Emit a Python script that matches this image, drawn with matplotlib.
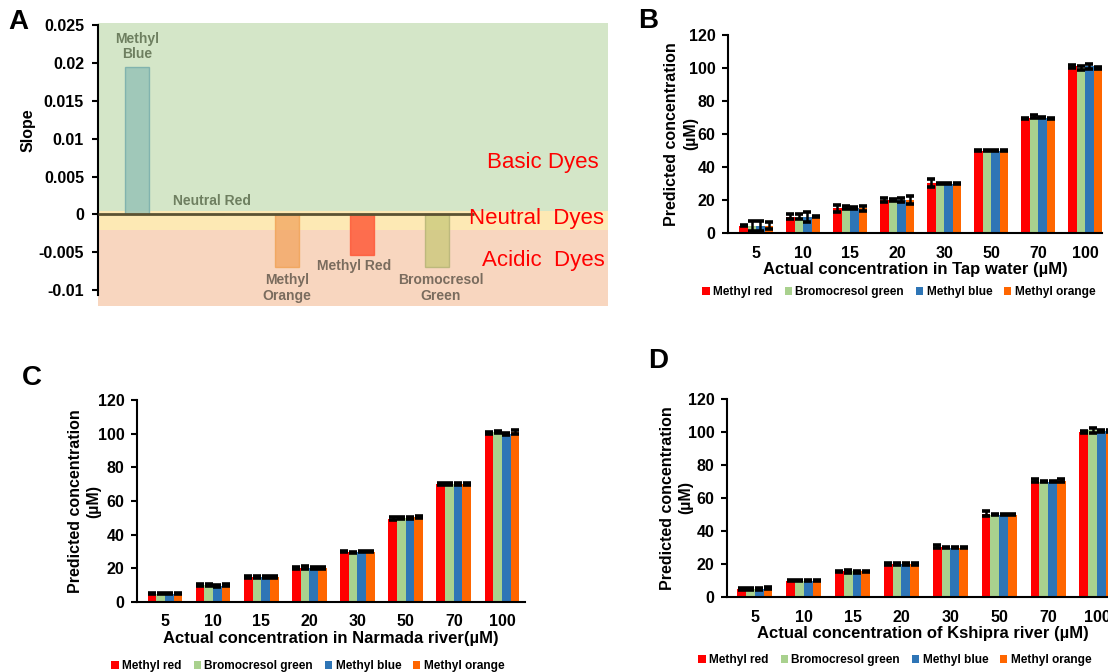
import matplotlib
matplotlib.use("Agg")
import matplotlib.pyplot as plt
from matplotlib.patches import Patch
import numpy as np

plt.rcParams['font.family'] = ['Liberation Sans', 'DejaVu Sans']

# ---------------- Data ----------------
# Panel A
dye_names = ["Methyl\nBlue", "Neutral Red", "Methyl\nOrange", "Methyl Red", "Bromocresol\nGreen"]
slopes = [0.0195, 0.0, -0.0069, -0.0054, -0.0069]

# Panels B-D
conc_labels = ["5", "10", "15", "20", "30", "50", "70", "100"]
series_names = ["Methyl red", "Bromocresol green", "Methyl blue", "Methyl orange"]

tap_red = [4.5, 10, 15, 20, 30.5, 50, 69.5, 101]
tap_green = [4.5, 10, 15.5, 20, 30, 50, 70.5, 100]
tap_blue = [4.5, 9.5, 15, 20, 30, 50, 70, 101]
tap_orange = [4.5, 10, 15, 20, 30, 50, 69.5, 100]
tap_red_err = [0.5, 1.5, 2, 1, 2.5, 0.5, 0.5, 1]
tap_green_err = [3, 1.5, 1, 0.5, 0.5, 0.5, 1, 1]
tap_blue_err = [3, 3, 0.5, 1.5, 0.5, 0.5, 0.5, 1.5]
tap_orange_err = [2, 0.5, 1.5, 2.5, 0.5, 0.5, 0.5, 0.5]

nar_red = [5, 10, 15, 20, 30, 49.5, 70, 100.5]
nar_green = [5, 10, 15, 20.5, 29.5, 50, 70, 101]
nar_blue = [5, 9.5, 15, 20, 30, 50, 70, 100]
nar_orange = [5, 10, 15, 20, 30, 50.5, 70, 101]
nar_red_err = [0.5, 0.5, 0.5, 0.5, 0.5, 1, 0.5, 0.5]
nar_green_err = [0.5, 0.5, 0.5, 1, 0.5, 0.5, 0.5, 0.5]
nar_blue_err = [0.5, 0.5, 0.5, 0.5, 0.5, 0.5, 0.5, 0.5]
nar_orange_err = [0.5, 0.5, 0.5, 0.5, 0.5, 0.5, 0.5, 1]

ksh_red = [5, 10, 15.5, 20, 30.5, 50.5, 70.5, 100]
ksh_green = [5, 10, 15.5, 20, 30, 50, 70, 101]
ksh_blue = [5, 10, 15, 20, 30, 50, 70, 100.5]
ksh_orange = [5.5, 10, 15.5, 20, 30, 50, 70.5, 100.5]
ksh_red_err = [0.5, 0.5, 0.5, 0.5, 1, 1.5, 1, 0.5]
ksh_green_err = [0.5, 0.5, 1, 0.5, 0.5, 0.5, 0.5, 1.5]
ksh_blue_err = [0.5, 0.5, 0.5, 0.5, 0.5, 0.5, 0.5, 0.5]
ksh_orange_err = [0.5, 0.5, 0.5, 0.5, 0.5, 0.5, 1, 0.5]

bar_colors = ["#ff0000", "#a9d18e", "#2e75b6", "#ff6600"]

W, H = 1108, 672
fig = plt.figure(figsize=(W / 100, H / 100), dpi=100)


def px_axes(x0, y0, x1, y1):
    return fig.add_axes([x0 / W, 1 - y1 / H, (x1 - x0) / W, (y1 - y0) / H])


def fx(x):
    return x / W


def fy(y):
    return 1 - y / H


# ---------------- Panel A ----------------
axA = px_axes(98, 23, 608, 306)
axA.set_xlim(-0.52, 6.28)
axA.set_ylim(-0.0121, 0.0253)
axA.axhspan(0.0005, 0.0253, color="#d4e6c8", zorder=0, lw=0)
axA.axhspan(-0.002, 0.0005, color="#fde9b4", zorder=0, lw=0)
axA.axhspan(-0.0121, -0.002, color="#f8d6bf", zorder=0, lw=0)

xa = np.arange(len(dye_names))
a_face = ["#8fbfb4", "#b0b0a0", "#f2a45e", "#ff4a28", "#c8c878"]
a_edge = ["#6fa8a8", "#909080", "#f0a050", "#ff5030", "#b0b070"]
axA.bar(xa, slopes, width=0.31, color=a_face, edgecolor=a_edge, alpha=0.75,
        linewidth=1, zorder=2)
axA.hlines(0, -0.52, 4.5, color="#5b5232", lw=2, zorder=3)

lab_pos = [0.0222, 0.0018, -0.0097, -0.0068, -0.0097]
lab_cols = ["#6e7f60", "#6e7f60", "#7a6c5e", "#7a6c5e", "#7a6c5e"]
lab_dx = [0, 0, 0, -0.1, 0.05]
for i, name in enumerate(dye_names):
    axA.text(xa[i] + lab_dx[i], lab_pos[i], name, ha="center", va="center",
             fontsize=10, fontweight="bold", color=lab_cols[i],
             linespacing=1.15, zorder=4)

axA.text(6.16, 0.0069, "Basic Dyes", ha="right", va="center", fontsize=16,
         color="#ff0000", zorder=4)
axA.text(6.23, -0.0005, "Neutral  Dyes", ha="right", va="center", fontsize=16,
         color="#ff0000", zorder=4)
axA.text(6.23, -0.0061, "Acidic  Dyes", ha="right", va="center", fontsize=16,
         color="#ff0000", zorder=4)

for s in ["top", "right", "bottom"]:
    axA.spines[s].set_visible(False)
axA.spines["left"].set_bounds(-0.0106, 0.025)
axA.spines["left"].set_linewidth(1.5)
axA.set_xticks([])
axA.set_yticks([-0.01, -0.005, 0, 0.005, 0.01, 0.015, 0.02, 0.025])
axA.set_yticklabels(["-0.01", "-0.005", "0", "0.005", "0.01", "0.015", "0.02", "0.025"])
axA.tick_params(axis="y", labelsize=11.5, width=1.5, length=4, pad=6)
for t in axA.get_yticklabels():
    t.set_fontweight("bold")
fig.text(fx(28), fy(130), "Slope", rotation=90, ha="center", va="center",
         fontsize=11.5, fontweight="bold")
fig.text(fx(8), fy(22), "A", ha="left", va="center", fontsize=20, fontweight="bold")


# ---------------- Bar panels ----------------
def bar_panel(box, xlim, vals, errs, xlabel, legend_xy, letter, letter_xy, ylab_x):
    ax = px_axes(*box)
    x = np.arange(len(conc_labels))
    bw = 0.18
    for k in range(4):
        ax.bar(x + (k - 1.5) * bw, vals[k], width=bw, color=bar_colors[k],
               yerr=errs[k], error_kw=dict(ecolor="black", elinewidth=1.8,
                                          capsize=3.0, capthick=2.6), zorder=2)
    ax.set_xlim(*xlim)
    ax.set_ylim(0, 120)
    ax.set_yticks(range(0, 121, 20))
    ax.set_xticks(x)
    ax.set_xticklabels(conc_labels)
    for s in ["top", "right"]:
        ax.spines[s].set_visible(False)
    ax.spines["left"].set_linewidth(1.5)
    ax.spines["bottom"].set_linewidth(1.5)
    ax.tick_params(axis="y", labelsize=11.5, width=1.5, length=4, pad=5)
    ax.tick_params(axis="x", labelsize=11.5, length=0, pad=9)
    for t in ax.get_xticklabels() + ax.get_yticklabels():
        t.set_fontweight("bold")
    ax.set_xlabel(xlabel, fontsize=12, fontweight="bold", labelpad=1)
    ylc = (box[1] + box[3]) / 2
    fig.text(fx(ylab_x), fy(ylc), "Predicted concentration", rotation=90,
             ha="center", va="center", fontsize=11.5, fontweight="bold")
    fig.text(fx(ylab_x + 19), fy(ylc), "(µM)", rotation=90,
             ha="center", va="center", fontsize=11.5, fontweight="bold")
    handles = [Patch(facecolor=c, edgecolor="none") for c in bar_colors]
    fig.legend(handles, series_names, loc="center", ncol=4, frameon=False,
               bbox_to_anchor=(fx(legend_xy[0]), fy(legend_xy[1])),
               handlelength=0.6, handleheight=0.7, handletextpad=0.3,
               columnspacing=1.0, prop=dict(size=8.6, weight="bold"))
    fig.text(fx(letter_xy[0]), fy(letter_xy[1]), letter, ha="left", va="center",
             fontsize=20, fontweight="bold")
    return ax


bar_panel((728, 35, 1102, 233), (-0.6, 7.36),
          [tap_red, tap_green, tap_blue, tap_orange],
          [tap_red_err, tap_green_err, tap_blue_err, tap_orange_err],
          "Actual concentration in Tap water (µM)", (899, 292), "B", (638, 21), 672)

bar_panel((137, 400, 525, 602), (-0.58, 7.48),
          [nar_red, nar_green, nar_blue, nar_orange],
          [nar_red_err, nar_green_err, nar_blue_err, nar_orange_err],
          "Actual concentration in Narmada river(µM)", (308, 666), "C", (22, 378), 75)

bar_panel((727, 399, 1119, 597), (-0.57, 7.45),
          [ksh_red, ksh_green, ksh_blue, ksh_orange],
          [ksh_red_err, ksh_green_err, ksh_blue_err, ksh_orange_err],
          "Actual concentration of Kshipra river (µM)", (895, 660), "D", (648, 361), 667)

fig.savefig("out.png", dpi=100)
